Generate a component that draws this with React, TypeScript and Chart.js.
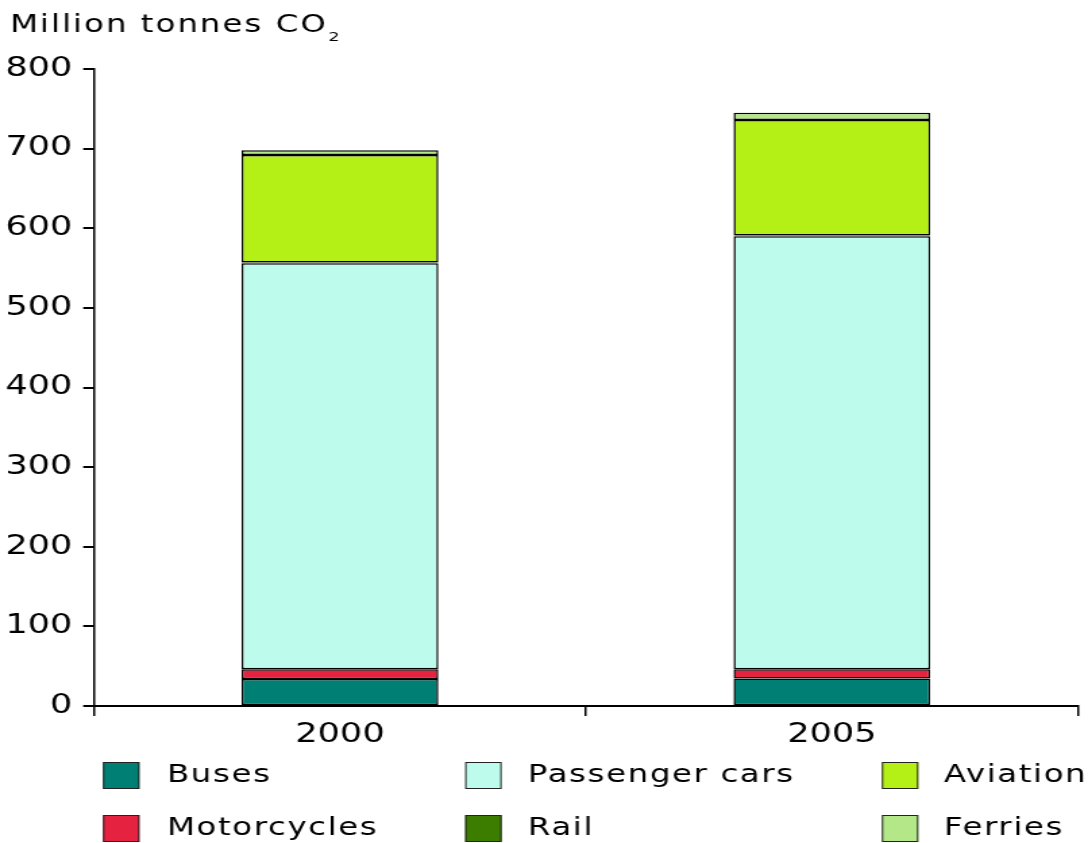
import React, { useEffect, useRef } from "react";
import { Chart, registerables } from "chart.js";

Chart.register(...registerables);

// Passenger transport CO2 emissions by mode (million tonnes)
const years = ["2000", "2005"];
const buses = [34, 34.5];
const motorcycles = [12, 11.5];
const passengerCars = [510, 544];
const rail = [1, 1];
const aviation = [135, 145];
const ferries = [6, 9];

const modeLabels = ["Buses", "Motorcycles", "Passenger cars", "Rail", "Aviation", "Ferries"];
const modeColors = ["#008075", "#E52240", "#BDFCEC", "#3C7D00", "#B4EF15", "#B3E788"];
const modeValues = [buses, motorcycles, passengerCars, rail, aviation, ferries];

const yMin = 0;
const yMax = 800;
const yStep = 100;

// The drawing is done on a narrower canvas and widened by CSS.
const PAGE_W = 1088;
const PAGE_H = 843;
const SX = 1.35;
const CW = Math.round(PAGE_W / SX);
const FONT = "'DejaVu Sans', Verdana, sans-serif";

const titleAndLegend = {
  id: "titleAndLegend",
  afterDraw(chart: any) {
    const ctx: CanvasRenderingContext2D = chart.ctx;
    ctx.save();
    ctx.fillStyle = "#000";
    ctx.textAlign = "left";
    ctx.textBaseline = "alphabetic";

    // Axis title with subscript
    (ctx as any).letterSpacing = "1.5px";
    ctx.font = `24px ${FONT}`;
    const main = "Million tonnes CO";
    ctx.fillText(main, 7.4, 32);
    const w = ctx.measureText(main).width;
    ctx.font = `13px ${FONT}`;
    ctx.fillText("2", 7.4 + w + 0.5, 41);

    // Legend: three columns, two rows
    (ctx as any).letterSpacing = "1.2px";
    const swatchX = [76.3, 344.6, 653.3];
    const textX = [123.7, 391.1, 699.3];
    const rowTop = [762, 815];
    const rowMid = [776, 829];
    ctx.font = `24px ${FONT}`;
    ctx.textBaseline = "middle";
    chart.data.datasets.forEach((ds: any, i: number) => {
      const col = Math.floor(i / 2);
      const row = i % 2;
      ctx.fillStyle = ds.backgroundColor;
      ctx.fillRect(swatchX[col], rowTop[row], 27, 27);
      ctx.strokeStyle = "#222";
      ctx.lineWidth = 1;
      ctx.strokeRect(swatchX[col] + 0.5, rowTop[row] + 0.5, 26, 26);
      ctx.fillStyle = "#000";
      ctx.fillText(ds.label, textX[col], rowMid[row]);
    });
    ctx.restore();
  },
};

export default function App() {
  const canvasRef = useRef<HTMLCanvasElement | null>(null);

  useEffect(() => {
    document.body.style.margin = "0";
    const canvas = canvasRef.current;
    if (!canvas) return;

    const chart = new Chart(canvas, {
      type: "bar",
      data: {
        labels: years,
        datasets: modeLabels.map((label, i) => ({
          label,
          data: modeValues[i],
          backgroundColor: modeColors[i],
          borderColor: "#000",
          borderWidth: 1.5,
          borderSkipped: false,
          barPercentage: 0.4,
          categoryPercentage: 1,
        })),
      },
      options: {
        responsive: false,
        animation: false,
        devicePixelRatio: 1,
        layout: { padding: { top: 69, right: CW - 1078 / SX, bottom: 0, left: 0 } },
        plugins: {
          legend: { display: false },
          title: { display: false },
          tooltip: { enabled: false },
        },
        scales: {
          x: {
            stacked: true,
            grid: {
              offset: true,
              drawOnChartArea: false,
              drawTicks: true,
              tickLength: 10,
              color: "#000",
              lineWidth: 1.5,
            },
            border: { color: "#000", width: 2 },
            ticks: { color: "#000", font: { family: FONT, size: 26 }, padding: 4 },
            afterFit: (s: any) => {
              s.height = PAGE_H - 706;
            },
          },
          y: {
            stacked: true,
            min: yMin,
            max: yMax,
            grid: {
              drawOnChartArea: false,
              drawTicks: true,
              tickLength: 8,
              color: "#000",
              lineWidth: 2,
            },
            border: { color: "#000", width: 1.5 },
            ticks: {
              stepSize: yStep,
              color: "#000",
              font: { family: FONT, size: 26 },
              padding: 8,
            },
            afterFit: (s: any) => {
              s.width = 94 / SX;
            },
          },
        },
      },
      plugins: [titleAndLegend],
    });

    return () => chart.destroy();
  }, []);

  return (
    <div style={{ position: "absolute", left: 0, top: 0, width: PAGE_W, height: PAGE_H, background: "#fff" }}>
      <canvas
        ref={canvasRef}
        width={CW}
        height={PAGE_H}
        style={{ width: `${PAGE_W}px`, height: `${PAGE_H}px`, display: "block" }}
      />
    </div>
  );
}
